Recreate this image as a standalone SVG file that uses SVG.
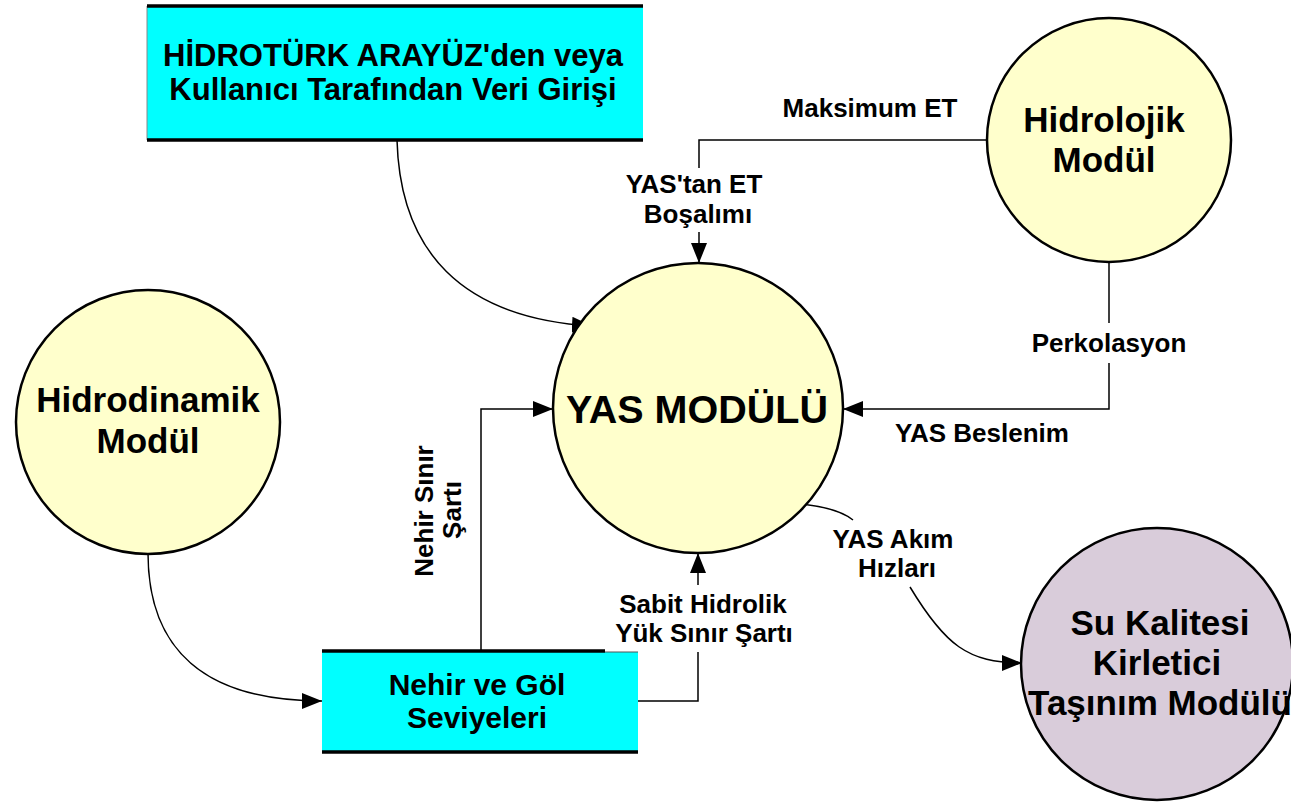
<svg xmlns="http://www.w3.org/2000/svg" width="1291" height="803" viewBox="0 0 1291 803">
<defs>
<marker id="arr" markerUnits="userSpaceOnUse" markerWidth="21" markerHeight="17" refX="20" refY="8" orient="auto">
<path d="M0,0 L20,8 L0,16 z" fill="#000"/>
</marker>
<style>
.t{font-family:"Liberation Sans",Arial,sans-serif;font-weight:bold;fill:#000;text-anchor:middle}
.mod{font-size:35px}
.box{font-size:31px}
.lbl{font-size:26px}
.circ{fill:#FFFFCC;stroke:#000;stroke-width:2.5}
.cyan{fill:#00FFFF}
.bord{stroke:#000;stroke-width:3.5}
.con{fill:none;stroke:#000;stroke-width:1.5}
</style>
</defs>
<rect width="1291" height="803" fill="#fff"/>

<g id="connectors">
<path class="con" d="M987,140 H699 V168"/>
<path class="con" d="M699,232 V263" marker-end="url(#arr)"/>
<path class="con" d="M1109,262 V323"/>
<path class="con" d="M1109,363 V409 H843" marker-end="url(#arr)"/>
<path class="con" d="M481,651 V409 H553" marker-end="url(#arr)"/>
<path class="con" d="M638,701 H698 V652"/>
<path class="con" d="M698,585 V553" marker-end="url(#arr)"/>
<path class="con" d="M148,553 C148,650 205,701 322,701" marker-end="url(#arr)"/>
<path class="con" d="M397,140 C400,250 460,318 592,326" marker-end="url(#arr)"/>
<path class="con" d="M798,504 C825,506 843,512 853,520"/>
<path class="con" d="M910,587 C945,645 968,663 1022,663" marker-end="url(#arr)"/>
<text class="t lbl" x="870" y="117">Maksimum ET</text>
<text class="t lbl" x="694" y="193">YAS'tan ET</text>
<text class="t lbl" x="698" y="223">Boşalımı</text>
<text class="t lbl" x="1109" y="352">Perkolasyon</text>
<text class="t lbl" x="982" y="442">YAS Beslenim</text>
<text class="t lbl" x="703" y="613">Sabit Hidrolik</text>
<text class="t lbl" x="704" y="642">Yük Sınır Şartı</text>
<text class="t lbl" x="893" y="548">YAS Akım</text>
<text class="t lbl" x="897" y="577">Hızları</text>
<text class="t lbl" transform="translate(433,511) rotate(-90)">Nehir Sınır</text>
<text class="t lbl" transform="translate(461,510) rotate(-90)">Şartı</text>
</g>

<g id="veri-girisi">
<rect class="cyan" x="147" y="6" width="496" height="134"/>
<line x1="147" y1="140" x2="147" y2="6" stroke="#888" stroke-width="1"/>
<line class="bord" x1="147" y1="6" x2="643" y2="6"/>
<line class="bord" x1="147" y1="140" x2="643" y2="140"/>
<text class="t box" x="393" y="66">HİDROTÜRK ARAYÜZ'den veya</text>
<text class="t box" x="393" y="100">Kullanıcı Tarafından Veri Girişi</text>
</g>

<g id="hidrolojik">
<circle class="circ" cx="1109" cy="140" r="122"/>
<text class="t mod" x="1104" y="132">Hidrolojik</text>
<text class="t mod" x="1104" y="172">Modül</text>
</g>

<g id="yas">
<circle class="circ" cx="698" cy="408" r="145"/>
<text class="t" style="font-size:39.5px" x="697" y="423">YAS MODÜLÜ</text>
</g>

<g id="hidrodinamik">
<circle class="circ" cx="148" cy="422" r="132"/>
<text class="t mod" x="148" y="412">Hidrodinamik</text>
<text class="t mod" x="148" y="453">Modül</text>
</g>

<g id="nehir-gol">
<rect class="cyan" x="322" y="652" width="316" height="100"/>
<line class="bord" x1="322" y1="651" x2="605" y2="651"/>
<line x1="605" y1="652" x2="638" y2="652" stroke="#555" stroke-width="1"/>
<line class="bord" x1="322" y1="752" x2="638" y2="752"/>
<text class="t" style="font-size:30px" x="477" y="695">Nehir ve Göl</text>
<text class="t" style="font-size:30px" x="477" y="728">Seviyeleri</text>
</g>

<g id="su-kalitesi">
<circle cx="1157" cy="664" r="136" fill="#D9CCDA" stroke="#000" stroke-width="2.5"/>
<text class="t" style="font-size:35px" x="1160" y="635">Su Kalitesi</text>
<text class="t" style="font-size:35px" x="1157" y="675">Kirletici</text>
<text class="t" style="font-size:35px" x="1160" y="715">Taşınım Modülü</text>
</g>
</svg>
